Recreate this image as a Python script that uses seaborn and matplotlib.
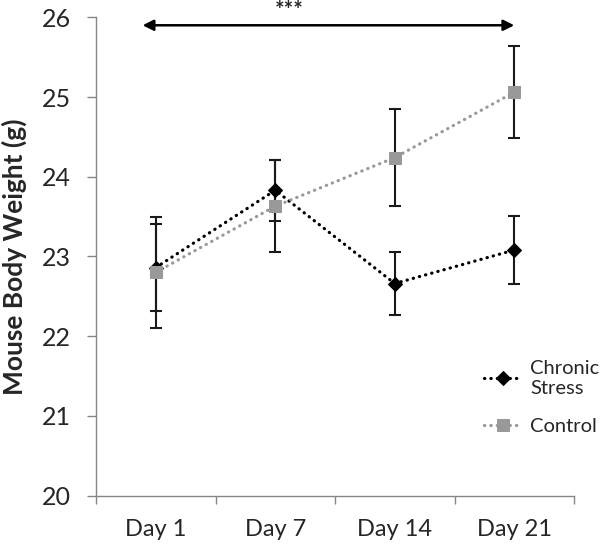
import numpy as np
import pandas as pd
import matplotlib
matplotlib.use("Agg")
import matplotlib.pyplot as plt
import seaborn as sns
from matplotlib.ticker import FixedLocator

# --- Data ---
days = ['Day 1', 'Day 7', 'Day 14', 'Day 21']
stress_mean = [22.86, 23.83, 22.66, 23.08]
stress_err = [0.55, 0.38, 0.40, 0.43]
control_mean = [22.80, 23.63, 24.24, 25.06]
control_err = [0.70, 0.58, 0.61, 0.58]
y_ticks = [20, 21, 22, 23, 24, 25, 26]

sns.set_style("white")
plt.rcParams['font.family'] = ['Lato', 'DejaVu Sans']

fig = plt.figure(figsize=(6.0, 5.48), dpi=100)
ax = fig.add_axes([0.16, 0.0958, 0.7967, 0.8726])

x_pos = np.arange(len(days))
dotted = (0, (0.1, 1.9))

# --- Error bars (behind the markers) ---
ax.errorbar(x_pos, stress_mean, yerr=stress_err, fmt='none', ecolor='#1a1a1a',
            elinewidth=1.5, capsize=4, capthick=1.5, zorder=1)
ax.errorbar(x_pos, control_mean, yerr=control_err, fmt='none', ecolor='#1a1a1a',
            elinewidth=1.5, capsize=4, capthick=1.5, zorder=1)

# --- Lines ---
sns.lineplot(x=x_pos, y=stress_mean, ax=ax, color='black', marker='D',
             markersize=7, markeredgecolor='black', linestyle=dotted,
             linewidth=2.3, dash_capstyle='round', label='Chronic\nStress',
             sort=False, zorder=3)
sns.lineplot(x=x_pos, y=control_mean, ax=ax, color='#999999', marker='s',
             markersize=8, markeredgecolor='#999999', linestyle=dotted,
             linewidth=2.3, dash_capstyle='round', label='Control',
             sort=False, zorder=4)

# --- Axes styling ---
ax.set_xlim(-0.5, 3.5)
ax.set_ylim(20, 26)
ax.set_yticks(y_ticks)
ax.set_xticks(x_pos)
ax.set_xticklabels(days)
ax.xaxis.set_minor_locator(FixedLocator([-0.5, 0.5, 1.5, 2.5, 3.5]))

for side in ['top', 'right']:
    ax.spines[side].set_visible(False)
for side in ['left', 'bottom']:
    ax.spines[side].set_color('#868686')
    ax.spines[side].set_linewidth(1.0)

ax.tick_params(axis='y', which='major', direction='out', length=6.5, width=1,
               color='#868686', pad=11.5, labelsize=18, left=True)
ax.tick_params(axis='x', which='major', length=0, pad=17, labelsize=17)
ax.tick_params(axis='x', which='minor', direction='out', length=6, width=1,
               color='#868686', bottom=True)

ax.set_xlabel('')
ax.set_ylabel('Mouse Body Weight (g)', fontsize=19, fontweight='bold')
ax.yaxis.set_label_coords(-0.145, 0.5)

# --- Significance arrow ---
ax.annotate('', xy=(3.0, 25.9), xytext=(-0.11, 25.9),
            arrowprops=dict(arrowstyle='<|-|>', color='black', lw=1.8,
                            mutation_scale=16, shrinkA=0, shrinkB=0),
            annotation_clip=False)
ax.text(1.12, 26.0, '***', ha='center', va='baseline', fontsize=16,
        fontweight='bold', clip_on=False)

# --- Legend ---
leg = ax.legend(loc='upper left', bbox_to_anchor=(0.795, 0.30), frameon=False,
                fontsize=14.5, handlelength=1.9, handletextpad=0.4,
                labelspacing=1.05, borderaxespad=0)
for h in leg.legend_handles:
    h.set_dash_capstyle('round')

fig.savefig('out.png', dpi=100)
plt.close(fig)
